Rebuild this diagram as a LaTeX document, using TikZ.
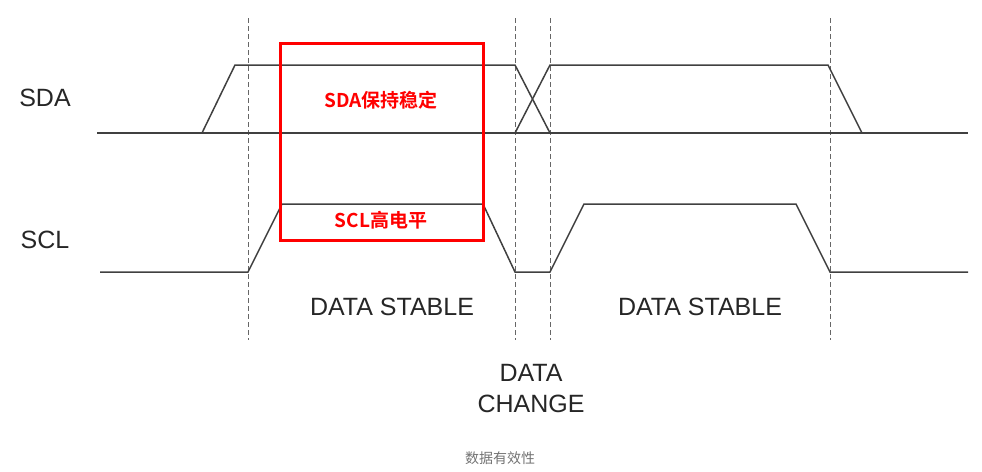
\documentclass[tikz,border=0pt]{standalone}
\usepackage{fontspec}
\setmainfont{Liberation Sans}
\newfontfamily\cjk{Noto Sans CJK SC}[BoldFont={Noto Sans CJK SC Bold}]
\usetikzlibrary{positioning}
\begin{document}
\begin{tikzpicture}[x=1pt,y=-1pt]
            \tikzstyle{wave}=[draw=black!75,line width=1.5pt]
            \tikzstyle{guide}=[draw=black!60,dash pattern=on 5pt off 3pt,line width=1pt]
            \tikzstyle{label}=[font=\fontsize{25}{27}\selectfont,text=black!85]
            \tikzstyle{note}=[font=\cjk\bfseries\fontsize{19}{21}\selectfont,text=red]

            \useasboundingbox (0,0) rectangle (982,471);

            % guide lines
            \foreach \gx/\gname in {248/g1,515/g2,550/g3,830/g4} {
                \coordinate (\gname top) at (\gx,18);
                \coordinate (\gname bot) at (\gx,340);
                \path[guide] (\gname top) -- (\gname bot);
            }

            % SDA
            \coordinate (sdaL) at (97,133);   \coordinate (sdaR) at (968,133);
            \coordinate (a1) at (202,133);    \coordinate (a2) at (235,65);
            \coordinate (a3) at (515,65);     \coordinate (a4) at (550,133);
            \coordinate (b1) at (515,133);    \coordinate (b2) at (550,65);
            \coordinate (a5) at (828,65);     \coordinate (a6) at (862,133);
            \path[wave] (sdaL) -- (sdaR);
            \path[wave] (a1) -- (a2) -- (a3) -- (a4);
            \path[wave] (b1) -- (b2) -- (a5) -- (a6);

            % SCL
            \coordinate (s0) at (100,272);  \coordinate (s1) at (248,272);
            \coordinate (s2) at (282,204);  \coordinate (s3) at (483,204);
            \coordinate (s4) at (515,272);  \coordinate (s5) at (550,272);
            \coordinate (s6) at (584,204);  \coordinate (s7) at (796,204);
            \coordinate (s8) at (830,272);  \coordinate (s9) at (968,272);
            \path[wave] (s0) -- (s1) -- (s2) -- (s3) -- (s4) -- (s5) -- (s6) -- (s7) -- (s8) -- (s9);

            \node[label] (sda) at (45,98) {SDA};
            \node[label] (scl) at (45,240) {SCL};

            % highlight
            \draw[red,line width=3pt] (280,43) rectangle (483,240);
            \node[note] (hold) at (381,100) {SDA保持稳定};
            \node[note] (high) at (381,220) {SCL高电平};

            \node[label] (stable1) at (392,307) {DATA STABLE};
            \node[label] (stable2) at (700,307) {DATA STABLE};
            \node[label,align=center,font=\fontsize{25}{31}\selectfont] (change) at (531,389) {DATA\\CHANGE};
            \node[font=\cjk\fontsize{14}{16}\selectfont,text=black!55] (cap) at (500,458) {数据有效性};
\end{tikzpicture}
\end{document}
